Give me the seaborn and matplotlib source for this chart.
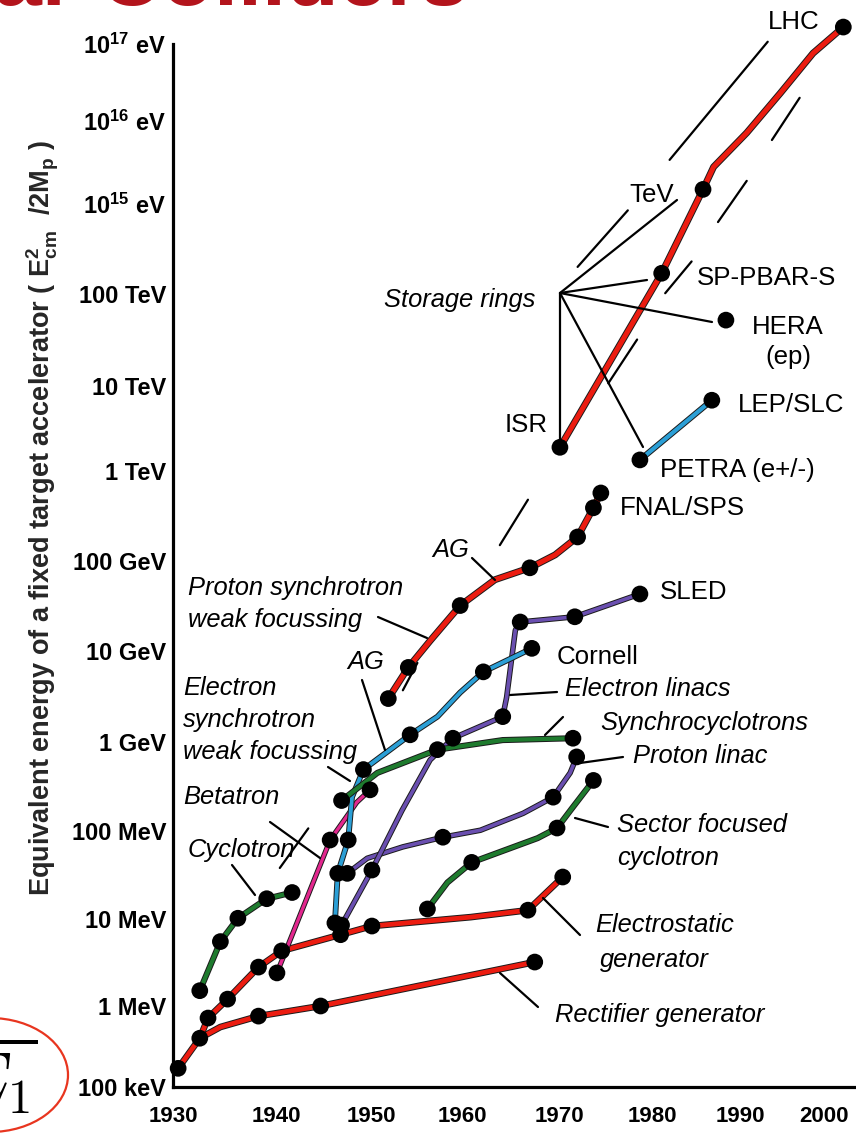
import numpy as np
import pandas as pd
import matplotlib
matplotlib.use("Agg")
import matplotlib.pyplot as plt
import matplotlib.patheffects as pe
from matplotlib.patches import Ellipse
from matplotlib.ticker import NullLocator
import seaborn as sns

# ---------------------------------------------------------------------------
# Livingston chart: year vs. equivalent fixed-target energy (eV)
# ---------------------------------------------------------------------------
rectifier_year = [1930.5, 1932.6, 1934.6, 1938.3, 1944.7, 1967.5]
rectifier_ev = [1.7e5, 4.0e5, 5.5e5, 7.5e5, 1.0e6, 3.2e6]
rectifier_dot = [1, 1, 0, 1, 1, 1]

electrostatic_year = [1932.6, 1933.4, 1935.3, 1938.3, 1940.6, 1946.8, 1950.1, 1960.9, 1966.8, 1970.4]
electrostatic_ev = [4.0e5, 7.1e5, 1.2e6, 2.8e6, 4.3e6, 6.6e6, 8.3e6, 1.05e7, 1.26e7, 3.0e7]
electrostatic_dot = [0, 1, 1, 1, 1, 1, 1, 0, 1, 1]

cyclotron_year = [1932.6, 1934.6, 1936.3, 1939.1, 1941.7]
cyclotron_ev = [1.5e6, 5.5e6, 1.02e7, 1.7e7, 2.0e7]
cyclotron_dot = [1, 1, 1, 1, 1]

betatron_year = [1940.1, 1945.7, 1948.5, 1949.9]
betatron_ev = [2.4e6, 7.9e7, 2.1e8, 2.9e8]
betatron_dot = [1, 1, 0, 1]

e_synchrotron_year = [1946.2, 1946.5, 1947.6, 1948.0, 1949.2, 1954.3, 1957.3, 1959.8, 1962.2, 1967.2]
e_synchrotron_ev = [9.0e6, 3.3e7, 7.9e7, 2.4e8, 4.9e8, 1.2e9, 1.9e9, 3.5e9, 5.9e9, 1.07e10]
e_synchrotron_dot = [1, 1, 1, 0, 1, 1, 0, 0, 1, 1]

e_linac_year = [1946.9, 1950.1, 1953.4, 1956.5, 1959.0, 1964.2, 1964.6, 1965.5, 1966.0, 1971.7, 1978.7]
e_linac_ev = [8.5e6, 3.6e7, 1.7e8, 6.3e8, 1.1e9, 1.9e9, 3.1e9, 1.7e10, 2.1e10, 2.4e10, 4.3e10]
e_linac_dot = [1, 1, 0, 0, 1, 1, 0, 0, 1, 1, 1]

p_linac_year = [1947.5, 1949.6, 1953.5, 1957.9, 1961.9, 1966.3, 1969.4, 1971.2, 1971.9]
p_linac_ev = [3.3e7, 4.9e7, 6.6e7, 8.5e7, 1.02e8, 1.58e8, 2.4e8, 4.5e8, 6.8e8]
p_linac_dot = [1, 0, 0, 1, 0, 0, 1, 0, 1]

synchrocyclotron_year = [1946.9, 1950.7, 1957.3, 1964.2, 1971.5]
synchrocyclotron_ev = [2.2e8, 4.5e8, 8.2e8, 1.05e9, 1.1e9]
synchrocyclotron_dot = [1, 0, 1, 0, 1]

sector_year = [1956.2, 1958.4, 1961.0, 1967.8, 1969.8, 1971.4, 1973.7]
sector_ev = [1.3e7, 2.6e7, 4.4e7, 8.3e7, 1.08e8, 1.8e8, 3.7e8]
sector_dot = [1, 0, 1, 0, 1, 0, 1]

p_synchrotron_year = [1951.9, 1954.1, 1956.5, 1959.8, 1963.4, 1967.0, 1969.6, 1972.0, 1973.7, 1974.5]
p_synchrotron_ev = [3.0e9, 6.6e9, 1.3e10, 3.2e10, 6.2e10, 8.4e10, 1.17e11, 1.85e11, 3.9e11, 5.7e11]
p_synchrotron_dot = [1, 1, 0, 1, 0, 1, 0, 1, 1, 1]

hadron_collider_year = [1970.1, 1981.1, 1985.8, 1987.0, 1990.8, 1994.8, 1998.7, 2002.3]
hadron_collider_ev = [1.9e12, 1.7e14, 1.5e15, 2.8e15, 7.2e15, 2.3e16, 7.6e16, 1.66e17]
hadron_collider_dot = [1, 1, 1, 0, 0, 0, 0, 1]

lepton_collider_year = [1978.7, 1986.8]
lepton_collider_ev = [1.35e12, 6.8e12]
lepton_collider_dot = [1, 1]

hera_year = [1988.4]
hera_ev = [5.2e13]
hera_dot = [1]

# short trend strokes drawn alongside the curves (start, end)
trend_year = [(1982.0, 1993.3), (1972.0, 1977.4), (1987.5, 1990.8), (1993.8, 1997.1),
              (1981.5, 1984.5), (1975.3, 1978.4), (1963.9, 1966.8), (1953.5, 1955.1),
              (1940.4, 1943.4)]
trend_ev = [(3.4e15, 1.07e17), (2.0e14, 8.5e14), (6.3e14, 1.9e15), (5.9e15, 2.0e16),
            (1.02e14, 2.3e14), (1.07e13, 3.2e13), (1.5e11, 4.8e11), (3.7e9, 7.4e9),
            (3.8e7, 1.07e8)]

year_ticks = [1930, 1940, 1950, 1960, 1970, 1980, 1990, 2000]
energy_ticks = [1e5, 1e6, 1e7, 1e8, 1e9, 1e10, 1e11, 1e12, 1e13, 1e14, 1e15, 1e16, 1e17]
energy_tick_labels = ["100 keV", "1 MeV", "10 MeV", "100 MeV", "1 GeV", "10 GeV",
                      "100 GeV", "1 TeV", "10 TeV", "100 TeV",
                      r"10$^{\mathbf{15}}$ eV", r"10$^{\mathbf{16}}$ eV", r"10$^{\mathbf{17}}$ eV"]

RED = "#ec1c10"
CYAN = "#2b9fd6"
PURPLE = "#6a4fb0"
GREEN = "#1e7b2e"
MAGENTA = "#e2278e"

series = [
    ("Rectifier generator", rectifier_year, rectifier_ev, rectifier_dot, RED, 3.4),
    ("Electrostatic generator", electrostatic_year, electrostatic_ev, electrostatic_dot, RED, 3.4),
    ("Cyclotron", cyclotron_year, cyclotron_ev, cyclotron_dot, GREEN, 3.0),
    ("Betatron", betatron_year, betatron_ev, betatron_dot, MAGENTA, 2.4),
    ("Proton linac", p_linac_year, p_linac_ev, p_linac_dot, PURPLE, 2.6),
    ("Electron linacs", e_linac_year, e_linac_ev, e_linac_dot, PURPLE, 2.6),
    ("Electron synchrotron", e_synchrotron_year, e_synchrotron_ev, e_synchrotron_dot, CYAN, 2.8),
    ("Synchrocyclotrons", synchrocyclotron_year, synchrocyclotron_ev, synchrocyclotron_dot, GREEN, 3.0),
    ("Sector focused cyclotron", sector_year, sector_ev, sector_dot, GREEN, 3.0),
    ("Proton synchrotron", p_synchrotron_year, p_synchrotron_ev, p_synchrotron_dot, RED, 3.6),
    ("Hadron storage rings", hadron_collider_year, hadron_collider_ev, hadron_collider_dot, RED, 3.6),
    ("e+e- storage rings", lepton_collider_year, lepton_collider_ev, lepton_collider_dot, CYAN, 3.0),
    ("HERA", hera_year, hera_ev, hera_dot, CYAN, 3.0),
]

# ---------------------------------------------------------------------------
# style
# ---------------------------------------------------------------------------
sns.set_style("white")
plt.rcParams["font.family"] = ["Liberation Sans", "DejaVu Sans"]
plt.rcParams["mathtext.fontset"] = "custom"
plt.rcParams["mathtext.rm"] = "Liberation Sans"
plt.rcParams["mathtext.it"] = "Liberation Sans:italic"
plt.rcParams["mathtext.bf"] = "Liberation Sans:bold"

W, H = 856, 1140
fig = plt.figure(figsize=(W / 100, H / 100), dpi=100)
fig.patch.set_facecolor("white")

# The printed axes are hand ruled, so each decade / year tick sits at its own
# page position; the scales interpolate between those rulings.
RULE_YEAR_PX = np.array([173, 276, 371, 462, 559, 652, 740, 824], float)
RULE_DECADE_PX = H - np.array([1087, 1006, 919, 831, 742, 651, 561, 471, 386, 294, 204, 121, 44], float)


def _ruler(xp, fp):
    xp = np.asarray(xp, float)
    fp = np.asarray(fp, float)
    lo = (fp[1] - fp[0]) / (xp[1] - xp[0])
    hi = (fp[-1] - fp[-2]) / (xp[-1] - xp[-2])

    def f(v):
        v = np.asarray(v, float)
        out = np.interp(v, xp, fp)
        out = np.where(v < xp[0], fp[0] + (v - xp[0]) * lo, out)
        out = np.where(v > xp[-1], fp[-1] + (v - xp[-1]) * hi, out)
        return out
    return f


_decades = np.log10(energy_ticks)
x_fwd = _ruler(year_ticks, RULE_YEAR_PX)
x_inv = _ruler(RULE_YEAR_PX, year_ticks)
_d_fwd = _ruler(_decades, RULE_DECADE_PX)
_d_inv = _ruler(RULE_DECADE_PX, _decades)


def y_fwd(e):
    e = np.asarray(e, float)
    return _d_fwd(np.log10(np.where(e > 0, e, 1e-300)))


def y_inv(h):
    return 10.0 ** _d_inv(h)


ax = fig.add_axes([0, 0, 1, 1])
ax.set_xscale("function", functions=(x_fwd, x_inv))
ax.set_yscale("function", functions=(y_fwd, y_inv))
ax.patch.set_visible(False)

# ---------------------------------------------------------------------------
# curves and machines
# ---------------------------------------------------------------------------
for name, yrs, evs, dots, color, lw in series:
    if len(yrs) > 1:
        sns.lineplot(x=yrs, y=evs, sort=False, estimator=None, color=color,
                     linewidth=lw, ax=ax, zorder=3,
                     path_effects=[pe.Stroke(linewidth=lw + 1.4, foreground="#1a1a1a"),
                                   pe.Normal()])

dot_frame = pd.concat(
    [pd.DataFrame({"year": yrs, "energy": evs, "dot": dots, "machine": name})
     for name, yrs, evs, dots, _, _ in series],
    ignore_index=True)
dot_frame = dot_frame[dot_frame["dot"] == 1]
sns.scatterplot(data=dot_frame, x="year", y="energy", color="black", s=145,
                edgecolor="none", ax=ax, zorder=4, legend=False)

for (y0, y1), (e0, e1) in zip(trend_year, trend_ev):
    sns.lineplot(x=[y0, y1], y=[e0, e1], sort=False, estimator=None,
                 color="black", linewidth=1.6, ax=ax, zorder=2)

# ---------------------------------------------------------------------------
# axes
# ---------------------------------------------------------------------------
ax.set_xlim(float(x_inv(0.0)), float(x_inv(float(W))))
ax.set_ylim(float(y_inv(0.0)), float(y_inv(float(H))))
ax.set_xticks(year_ticks, labels=[str(y) for y in year_ticks])
ax.set_yticks(energy_ticks, labels=energy_tick_labels)
ax.xaxis.set_minor_locator(NullLocator())
ax.yaxis.set_minor_locator(NullLocator())
ax.set_xlabel("")

for side in ("top", "right"):
    ax.spines[side].set_visible(False)
ax.spines["left"].set_position(("data", year_ticks[0]))
ax.spines["bottom"].set_position(("data", energy_ticks[0]))
ax.spines["left"].set_bounds(energy_ticks[0], energy_ticks[-1])
ax.spines["bottom"].set_bounds(year_ticks[0], float(x_inv(float(W))))
for side in ("left", "bottom"):
    ax.spines[side].set_linewidth(2.3)
    ax.spines[side].set_color("black")

ax.tick_params(axis="y", direction="in", length=14, width=1.7, pad=5,
               labelsize=17, colors="black")
ax.tick_params(axis="x", direction="in", length=20, width=1.7, pad=14,
               labelsize=16, colors="black")
for lab in ax.get_xticklabels() + ax.get_yticklabels():
    lab.set_fontweight("bold")

ax.set_ylabel(r"Equivalent energy of a fixed target accelerator ( E$_{\mathbf{cm}}^{\mathbf{2}}$  /2M$_{\mathbf{p}}$ )",
              fontsize=19.5, fontweight="bold")
ax.yaxis.set_label_coords(61 / W, 1 - 518 / H)

# ---------------------------------------------------------------------------
# labels and leader lines (page coordinates, origin top-left)
# ---------------------------------------------------------------------------
ov = fig.add_axes([0, 0, 1, 1], zorder=5)
ov.set_xlim(0, W)
ov.set_ylim(H, 0)
ov.axis("off")
ov.patch.set_visible(False)

labels = [
    ("LHC", 768, 22, "normal"), ("TeV", 629, 195, "normal"),
    ("SP-PBAR-S", 697, 278, "normal"), ("Storage rings", 384, 300, "italic"),
    ("HERA", 752, 327, "normal"), ("(ep)", 765, 357, "normal"),
    ("LEP/SLC", 738, 405, "normal"), ("ISR", 505, 425, "normal"),
    ("PETRA (e+/-)", 660, 470, "normal"), ("FNAL/SPS", 620, 508, "normal"),
    ("AG", 432, 550, "italic"), ("Proton synchrotron", 188, 588, "italic"),
    ("weak focussing", 188, 620, "italic"), ("SLED", 660, 592, "normal"),
    ("Cornell", 557, 657, "normal"), ("AG", 347, 662, "italic"),
    ("Electron", 183, 688, "italic"), ("synchrotron", 183, 720, "italic"),
    ("weak focussing", 183, 752, "italic"), ("Electron linacs", 565, 689, "italic"),
    ("Synchrocyclotrons", 600, 723, "italic"), ("Proton linac", 633, 756, "italic"),
    ("Betatron", 183, 797, "italic"), ("Sector focused", 617, 825, "italic"),
    ("cyclotron", 617, 858, "italic"), ("Cyclotron", 188, 850, "italic"),
    ("Electrostatic", 595, 925, "italic"), ("generator", 600, 960, "italic"),
    ("Rectifier generator", 555, 1015, "italic"),
]
for txt, x, y, style in labels:
    ov.text(x, y, txt, ha="left", va="center", fontsize=18.6 if style == "normal" else 18.4,
            fontstyle=style, color="black")

leaders = [
    # storage-ring fan
    ((560, 293), (560, 440)), ((560, 293), (647, 280)), ((560, 293), (712, 322)),
    ((560, 293), (643, 447)), ((560, 293), (677, 200)),
    # curve labels
    ((378, 617), (427, 638)), ((472, 558), (495, 580)), ((362, 680), (385, 750)),
    ((328, 767), (350, 781)), ((270, 822), (320, 858)), ((232, 865), (255, 895)),
    ((510, 695), (557, 692)), ((545, 735), (563, 717)), ((580, 763), (623, 757)),
    ((575, 818), (608, 827)), ((543, 898), (580, 935)), ((500, 973), (538, 1007)),
]
for (x0, y0), (x1, y1) in leaders:
    ov.plot([x0, x1], [y0, y1], color="black", lw=1.6, solid_capstyle="round")

# slide furniture: title edge and a highlighted symbol
ov.text(-6, 5, "ar Colliders", ha="left", va="baseline", fontsize=62,
        color="#b3141c", fontweight="bold")
ov.add_patch(Ellipse((-10, 1075), 156, 114, fill=False, edgecolor="#e8351f", lw=1.6))
ov.text(38, 1102, r"$\overline{E_1}$", ha="right", va="baseline", fontsize=50,
        math_fontfamily="cm", color="black")

fig.savefig("out.png", dpi=100)
